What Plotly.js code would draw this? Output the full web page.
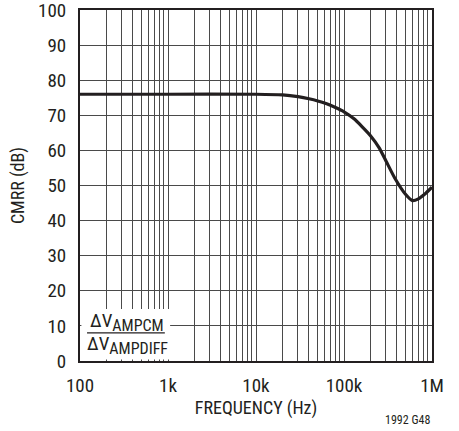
<!DOCTYPE html>
<html>
<head>
<meta charset="utf-8">
<script src="https://cdn.plot.ly/plotly-3.0.1.min.js"></script>
<style>html,body{margin:0;padding:0;background:#fff;}#chart{width:459px;height:431px;}</style>
</head>
<body>
<div id="chart"></div>
<script>
// Data
const frequencyHz = [100, 1000, 10000, 20000, 30000, 40000, 60000, 80000, 100000, 130000, 160000, 200000, 250000, 300000, 380000, 500000, 600000, 700000, 850000, 1000000];
const cmrrDb = [76, 76, 76, 75.8, 75.3, 74.7, 73.5, 72.2, 71, 69, 66.8, 64.2, 60.8, 57, 52, 47.5, 45.7, 46.2, 47.8, 49.5];
const xTickVals = [100, 1000, 10000, 100000, 1000000];
const xTickText = ['100', '1k', '10k', '100k', '1M'];
const yTickVals = [0, 10, 20, 30, 40, 50, 60, 70, 80, 90, 100];
const ratioNumerator = 'ΔV<sub><span style="font-size:16px">AMPCM</span></sub>';
const ratioDenominator = 'ΔV<sub><span style="font-size:16px">AMPDIFF</span></sub>';

const minorVals = [];
for (let d = 100; d < 1000000; d *= 10) {
  for (let m = 2; m <= 9; m++) minorVals.push(d * m);
}

const FONT = '"Liberation Sans Narrow", "Arial Narrow", "Roboto Condensed", "Liberation Sans", sans-serif';
const INK = '#231f20';
const GRID = '#4a4a4a';

const trace = {
  x: frequencyHz,
  y: cmrrDb,
  type: 'scatter',
  mode: 'lines',
  line: {color: INK, width: 3.2, shape: 'spline', smoothing: 0.6},
  hoverinfo: 'skip'
};

const layout = {
  width: 459,
  height: 431,
  margin: {l: 80, r: 27, t: 10, b: 70},
  paper_bgcolor: '#fff',
  plot_bgcolor: '#fff',
  showlegend: false,
  font: {family: FONT, color: INK, size: 19},
  xaxis: {
    type: 'log',
    range: [2, 6],
    tickmode: 'array',
    tickvals: xTickVals,
    ticktext: xTickText,
    ticks: '',
    ticklabelstandoff: 6,
    ticklabeloverflow: 'allow',
    showgrid: true,
    gridcolor: GRID,
    gridwidth: 1,
    minor: {tickmode: 'array', tickvals: minorVals, showgrid: true, gridcolor: GRID, gridwidth: 1, ticks: ''},
    showline: true,
    linecolor: INK,
    linewidth: 2,
    mirror: true,
    zeroline: false,
    tickfont: {family: FONT, size: 19, color: INK},
    title: {text: 'FREQUENCY (Hz)', font: {family: FONT, size: 18, color: INK}, standoff: 5}
  },
  yaxis: {
    range: [0, 100],
    tickmode: 'array',
    tickvals: yTickVals,
    ticks: '',
    ticklabelstandoff: 8,
    ticklabeloverflow: 'allow',
    showgrid: true,
    gridcolor: GRID,
    gridwidth: 1,
    showline: true,
    linecolor: INK,
    linewidth: 2,
    mirror: true,
    zeroline: false,
    tickfont: {family: FONT, size: 19, color: INK},
    title: {text: 'CMRR (dB)', font: {family: FONT, size: 18, color: INK}, standoff: 9}
  },
  annotations: [
    {
      xref: 'paper', yref: 'paper',
      x: 0.134, y: 0.112,
      xanchor: 'center', yanchor: 'middle',
      showarrow: false,
      text: ratioNumerator,
      font: {family: FONT, size: 19, color: INK}
    },
    {
      xref: 'paper', yref: 'paper',
      x: 0.134, y: 0.046,
      xanchor: 'center', yanchor: 'middle',
      showarrow: false,
      text: ratioDenominator,
      font: {family: FONT, size: 19, color: INK}
    },
    {
      xref: 'paper', yref: 'paper',
      x: 1.0, y: -0.143,
      xanchor: 'right', yanchor: 'top',
      showarrow: false,
      text: '1992 G48',
      font: {family: FONT, size: 12, color: INK}
    }
  ],
  shapes: [
    {
      type: 'rect', xref: 'paper', yref: 'paper', layer: 'above',
      x0: 0.004, x1: 0.256, y0: 0.004, y1: 0.148,
      fillcolor: '#fff', line: {width: 0}
    },
    {
      type: 'line', xref: 'paper', yref: 'paper', layer: 'above',
      x0: 0.02, x1: 0.241, y0: 0.080, y1: 0.080,
      line: {color: INK, width: 1.2}
    }
  ]
};

Plotly.newPlot('chart', [trace], layout, {displayModeBar: false, staticPlot: true});
</script>
</body>
</html>
